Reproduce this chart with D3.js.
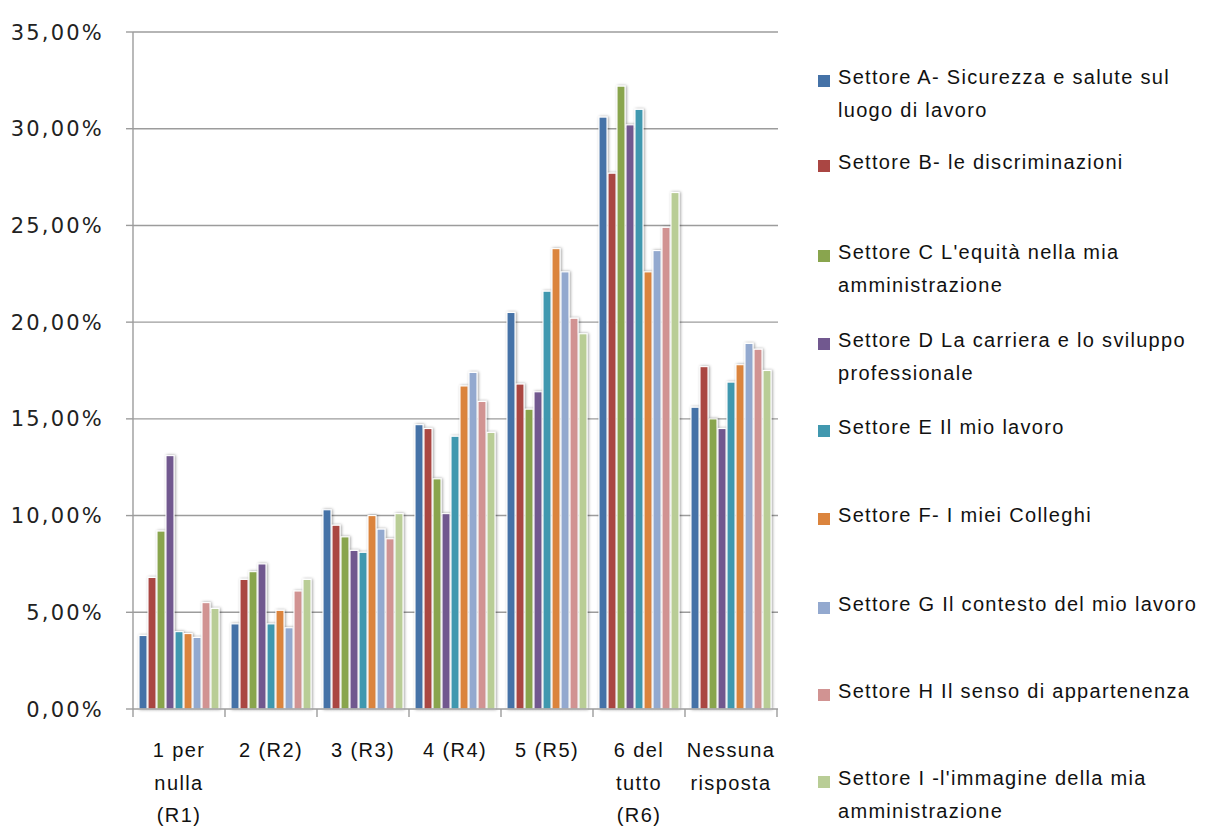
<!DOCTYPE html>
<html><head><meta charset="utf-8">
<script src="https://cdn.jsdelivr.net/npm/d3@7"></script>
<style>body{margin:0;background:#fff}svg{display:block}</style>
</head><body><svg id="c" width="1205" height="826"></svg>
<script>
const categories = [["1 per","nulla","(R1)"],["2 (R2)"],["3 (R3)"],["4 (R4)"],["5 (R5)"],["6 del","tutto","(R6)"],["Nessuna","risposta"]];
const seriesNames = [
  ["Settore A- Sicurezza e salute sul","luogo di lavoro"],
  ["Settore B- le discriminazioni"],
  ["Settore C L'equità nella mia","amministrazione"],
  ["Settore D La carriera e lo sviluppo","professionale"],
  ["Settore E Il mio lavoro"],
  ["Settore F- I miei Colleghi"],
  ["Settore G Il contesto del mio lavoro"],
  ["Settore H Il senso di appartenenza"],
  ["Settore I -l'immagine della mia","amministrazione"]
];
const colors = ["#4572A7","#AA4643","#89A54E","#71588F","#4198AF","#DB843D","#93A9CF","#D19392","#B9CD96"];
// values per series (A..I), one per category
const settoreA = [3.8, 4.4, 10.3, 14.7, 20.5, 30.6, 15.6];
const settoreB = [6.8, 6.7, 9.5, 14.5, 16.8, 27.7, 17.7];
const settoreC = [9.2, 7.1, 8.9, 11.9, 15.5, 32.2, 15.0];
const settoreD = [13.1, 7.5, 8.2, 10.1, 16.4, 30.2, 14.5];
const settoreE = [4.0, 4.4, 8.1, 14.1, 21.6, 31.0, 16.9];
const settoreF = [3.9, 5.1, 10.0, 16.7, 23.8, 22.6, 17.8];
const settoreG = [3.7, 4.2, 9.3, 17.4, 22.6, 23.7, 18.9];
const settoreH = [5.5, 6.1, 8.8, 15.9, 20.2, 24.9, 18.6];
const settoreI = [5.2, 6.7, 10.1, 14.3, 19.4, 26.7, 17.5];
const series = [settoreA,settoreB,settoreC,settoreD,settoreE,settoreF,settoreG,settoreH,settoreI];
const yTicks = [0,5,10,15,20,25,30,35];
const legendY = [77,162,252,340,427,515,604,691,778];

const svg = d3.select("#c");
const defs = svg.append("defs");
const f = defs.append("filter").attr("id","sh").attr("x","-60%").attr("y","-10%").attr("width","220%").attr("height","120%");
f.append("feDropShadow").attr("dx",1).attr("dy",0).attr("stdDeviation",1.8).attr("flood-color","#000").attr("flood-opacity",0.4);

const L=133,R=777,T=32,B=709;
const y = d3.scaleLinear().domain([0,35]).range([B,T]);
const x0 = d3.scaleBand().domain(d3.range(categories.length)).range([L,R]).padding(0);
const x1 = d3.scaleBand().domain(d3.range(series.length)).range([5.5, x0.bandwidth()-5.5]).padding(0);
const fmt = v => d3.format(".2f")(v).replace(".",",")+"%";

// gridlines
svg.append("g").selectAll("line").data(yTicks.filter(d=>d>0)).join("line")
  .attr("x1",L).attr("x2",R+1).attr("y1",d=>y(d)).attr("y2",d=>y(d))
  .attr("stroke","#9c9c9c").attr("stroke-width",1.4);

// bars
const g = svg.append("g");
series.forEach((vals,si)=>{
  g.append("g").selectAll("rect").data(vals).join("rect")
    .attr("x",(d,ci)=>x0(ci)+x1(si)+0.5)
    .attr("width",x1.bandwidth()-1)
    .attr("y",d=>y(d))
    .attr("height",d=>B-y(d))
    .attr("fill",colors[si])
    .attr("stroke","#fff").attr("stroke-width",1.1)
    .attr("filter","url(#sh)");
});

// y axis
const ya = svg.append("g");
ya.append("line").attr("x1",L).attr("x2",L).attr("y1",T).attr("y2",B).attr("stroke","#9c9c9c").attr("stroke-width",1.4);
ya.selectAll(".t").data(yTicks).join("line").attr("x1",L-7).attr("x2",L).attr("y1",d=>y(d)).attr("y2",d=>y(d)).attr("stroke","#9c9c9c").attr("stroke-width",1.4);
ya.selectAll("text").data(yTicks).join("text").attr("x",104).attr("y",d=>y(d)).attr("dy","0.36em")
  .attr("text-anchor","end").attr("font-family","DejaVu Sans").attr("font-size",21).attr("letter-spacing",2.2)
  .attr("fill","#222").text(d=>fmt(d));

// x axis
const xa = svg.append("g");
xa.append("line").attr("x1",L).attr("x2",R+1).attr("y1",B).attr("y2",B).attr("stroke","#9c9c9c").attr("stroke-width",1.4);
xa.selectAll(".t").data(d3.range(categories.length+1)).join("line")
  .attr("x1",d=>L+d*x0.step()).attr("x2",d=>L+d*x0.step()).attr("y1",B).attr("y2",B+8).attr("stroke","#9c9c9c").attr("stroke-width",1.4);
categories.forEach((lines,ci)=>{
  const t = xa.append("text").attr("text-anchor","middle").attr("font-family","Liberation Sans").attr("font-size",20)
    .attr("letter-spacing",1.4).attr("fill","#111");
  lines.forEach((ln,i)=>t.append("tspan").attr("x",x0(ci)+x0.bandwidth()/2).attr("y",757+i*32.5).text(ln));
});

// legend
const lg = svg.append("g");
seriesNames.forEach((lines,si)=>{
  lg.append("rect").attr("x",818).attr("y",legendY[si]-2).attr("width",12).attr("height",12).attr("fill",colors[si]);
  const t = lg.append("text").attr("font-family","Liberation Sans").attr("font-size",20).attr("letter-spacing",1.3).attr("fill","#111");
  lines.forEach((ln,i)=>t.append("tspan").attr("x",838).attr("y",legendY[si]+7+i*33).text(ln));
});
</script></body></html>
